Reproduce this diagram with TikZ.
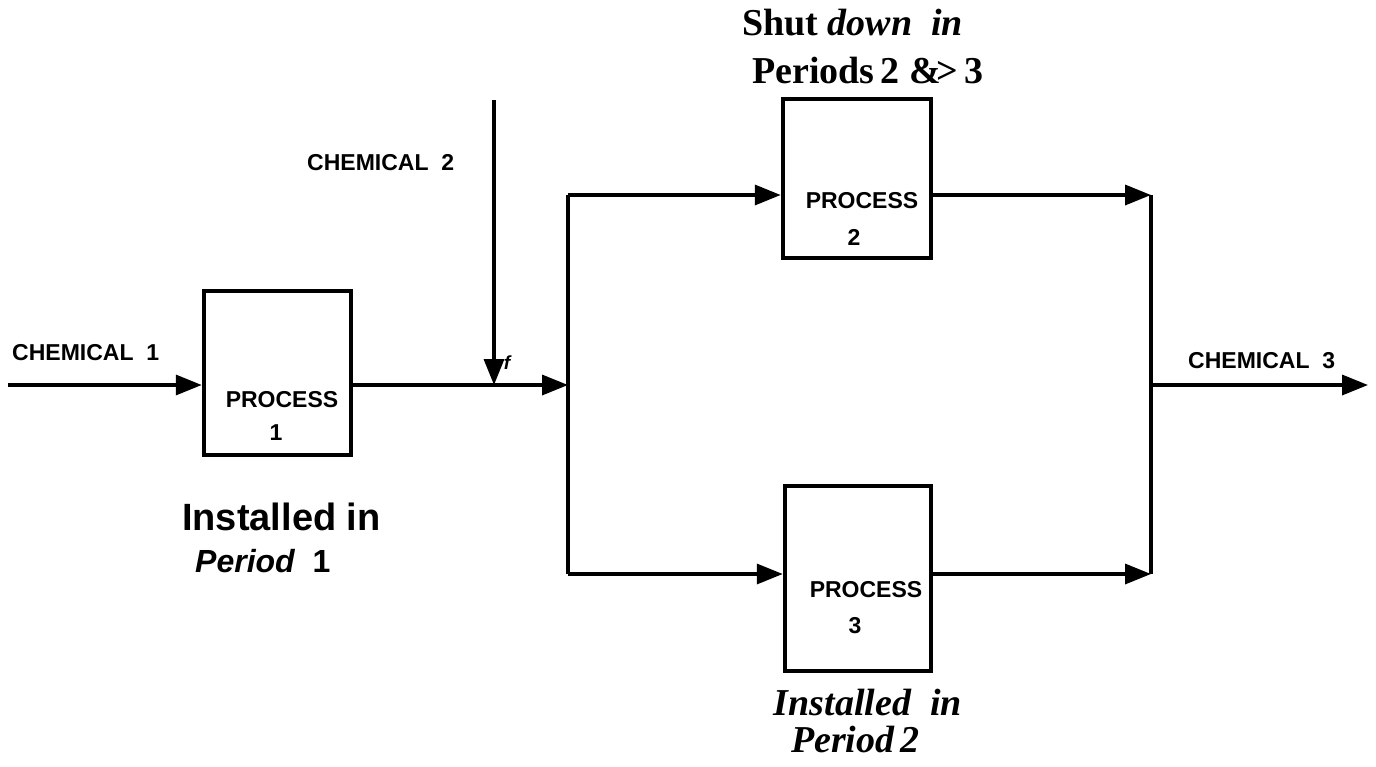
\documentclass[tikz,border=0pt]{standalone}
\usepackage{fontspec}
\setmainfont{Liberation Serif}
\setsansfont{Liberation Sans}
\usetikzlibrary{arrows.meta}
\begin{document}
\begin{tikzpicture}[x=1pt,y=-1pt,
  box/.style={draw, line width=4.5pt, inner sep=0pt},
  flow/.style={line width=3.5pt, -{Triangle[length=26pt,width=20pt]}},
  line/.style={line width=3.5pt},
  lab/.style={font=\sffamily\bfseries\fontsize{23}{27}\selectfont, inner sep=0pt},
  big/.style={font=\sffamily\bfseries\fontsize{38}{44}\selectfont, inner sep=0pt},
  serif/.style={font=\rmfamily\bfseries\fontsize{38}{44}\selectfont, inner sep=0pt},
  serifit/.style={font=\rmfamily\bfseries\itshape\fontsize{38}{44}\selectfont, inner sep=0pt}]
\useasboundingbox (0,0) rectangle (1376,766);
% boxes
\node[box, minimum width=147pt, minimum height=164pt] (p1) at (277.5,373) {};
\node[box, minimum width=148pt, minimum height=159pt] (p2) at (857,178.5) {};
\node[box, minimum width=146pt, minimum height=185pt] (p3) at (858,578.5) {};
% box texts
\node[lab, anchor=base] (t1) at (282,407) {PROCESS};
\node[lab, anchor=base] (n1) at (276,440) {1};
\node[lab, anchor=base] (t2) at (862,208) {PROCESS};
\node[lab, anchor=base] (n2) at (854,245) {2};
\node[lab, anchor=base] (t3) at (866,597) {PROCESS};
\node[lab, anchor=base] (n3) at (855,633) {3};
% coordinates
\coordinate (in) at (8,385);
\coordinate (c2top) at (494,100);
\coordinate (jf) at (494,385);
\coordinate (bm) at (568,385);
\coordinate (bt) at (568,195);
\coordinate (bb) at (568,574);
\coordinate (rt) at (1151,195);
\coordinate (rb) at (1151,574);
\coordinate (rm) at (1151,385);
\coordinate (out) at (1368,385);
% connectors
\draw[flow] (in) -- (p1.west |- in);
\draw[flow] (p1.east |- bm) -- (bm);
\draw[flow] (c2top) -- (jf);
\draw[line] (bt) -- (bb);
\draw[flow] (bt) -- (p2.west |- bt);
\draw[flow] (bb) -- (p3.west |- bb);
\draw[flow] (p2.east |- rt) -- (rt);
\draw[flow] (p3.east |- rb) -- (rb);
\draw[line] (rt) -- (rb);
\draw[flow] (rm) -- (out);
% labels
\node[lab, anchor=base west] (c1) at (12,360) {CHEMICAL\ \ 1};
\node[lab, anchor=base west] (c2) at (307,170) {CHEMICAL\ \ 2};
\node[lab, anchor=base west] (c3) at (1188,368) {CHEMICAL\ \ 3};
\node[font=\sffamily\bfseries\itshape\fontsize{19}{22}\selectfont, inner sep=0pt] (f) at (507,363) {f};
\node[big, anchor=base west] (i1) at (182,530) {Installed in};
\node[big, font=\sffamily\bfseries\fontsize{32}{38}\selectfont, anchor=base west] (pe1) at (195,572) {\itshape Period\upshape\ \ 1};
\node[serif, anchor=base west] (s1) at (742,35) {Shut \itshape down\ \ in};
\node[serif, anchor=base west] (s2) at (752,83) {Periods\,2 \&\kern-0.12em>\,3};
\node[serifit, anchor=base east] (i2) at (962,715) {Installed\ \ in};
\node[serifit, anchor=base east] (pe2) at (920,752) {Period\,2};
\end{tikzpicture}
\end{document}
